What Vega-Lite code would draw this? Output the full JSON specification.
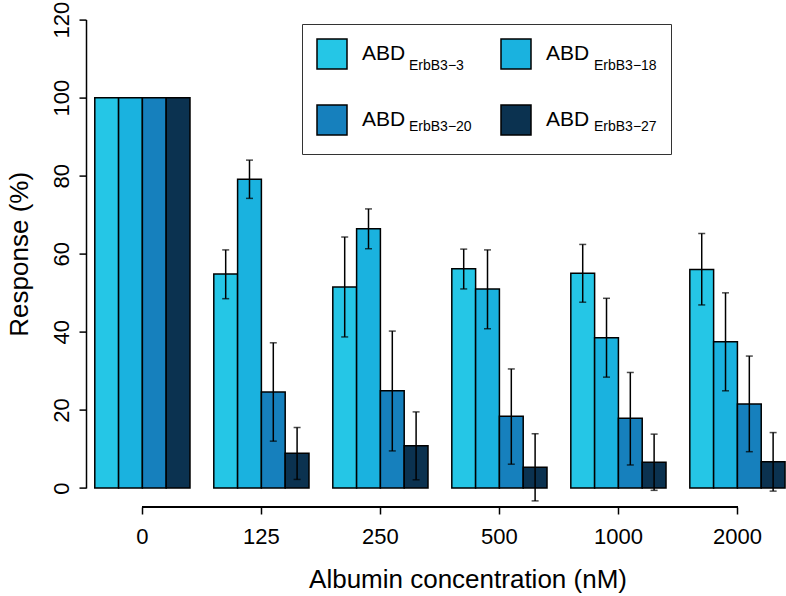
{
  "$schema": "https://vega.github.io/schema/vega-lite/v6.json",
  "width": 700,
  "height": 468.4,
  "autosize": "none",
  "padding": {"left": 86, "top": 19.6, "right": 0, "bottom": 108},
  "background": "white",
  "config": {
    "view": {"stroke": null},
    "font": "Liberation Sans",
    "axis": {"grid": false, "labelFont": "Liberation Sans", "titleFont": "Liberation Sans", "titleFontWeight": "normal", "labelColor": "black", "titleColor": "black", "tickColor": "black", "domainColor": "black"},
    "legend": {"labelFont": "Liberation Sans", "labelColor": "black"}
  },
  "data": {
    "values": [
      {"conc": "0", "series": "ABD ErbB3-3", "sub": "ErbB3−3", "value": 100, "lo": null, "hi": null},
      {"conc": "0", "series": "ABD ErbB3-18", "sub": "ErbB3−18", "value": 100, "lo": null, "hi": null},
      {"conc": "0", "series": "ABD ErbB3-20", "sub": "ErbB3−20", "value": 100, "lo": null, "hi": null},
      {"conc": "0", "series": "ABD ErbB3-27", "sub": "ErbB3−27", "value": 100, "lo": null, "hi": null},
      {"conc": "125", "series": "ABD ErbB3-3", "sub": "ErbB3−3", "value": 54.8, "lo": 48.5, "hi": 61.0},
      {"conc": "125", "series": "ABD ErbB3-18", "sub": "ErbB3−18", "value": 79.1, "lo": 74.2, "hi": 84.0},
      {"conc": "125", "series": "ABD ErbB3-20", "sub": "ErbB3−20", "value": 24.6, "lo": 12.0, "hi": 37.2},
      {"conc": "125", "series": "ABD ErbB3-27", "sub": "ErbB3−27", "value": 8.9, "lo": 2.2, "hi": 15.5},
      {"conc": "250", "series": "ABD ErbB3-3", "sub": "ErbB3−3", "value": 51.5, "lo": 38.7, "hi": 64.3},
      {"conc": "250", "series": "ABD ErbB3-18", "sub": "ErbB3−18", "value": 66.4, "lo": 61.3, "hi": 71.5},
      {"conc": "250", "series": "ABD ErbB3-20", "sub": "ErbB3−20", "value": 24.9, "lo": 9.5, "hi": 40.2},
      {"conc": "250", "series": "ABD ErbB3-27", "sub": "ErbB3−27", "value": 10.8, "lo": 2.1, "hi": 19.5},
      {"conc": "500", "series": "ABD ErbB3-3", "sub": "ErbB3−3", "value": 56.2, "lo": 51.0, "hi": 61.2},
      {"conc": "500", "series": "ABD ErbB3-18", "sub": "ErbB3−18", "value": 51.0, "lo": 40.8, "hi": 61.0},
      {"conc": "500", "series": "ABD ErbB3-20", "sub": "ErbB3−20", "value": 18.4, "lo": 6.1, "hi": 30.5},
      {"conc": "500", "series": "ABD ErbB3-27", "sub": "ErbB3−27", "value": 5.3, "lo": -3.3, "hi": 13.9},
      {"conc": "1000", "series": "ABD ErbB3-3", "sub": "ErbB3−3", "value": 55.0, "lo": 47.6, "hi": 62.4},
      {"conc": "1000", "series": "ABD ErbB3-18", "sub": "ErbB3−18", "value": 38.5, "lo": 28.4, "hi": 48.6},
      {"conc": "1000", "series": "ABD ErbB3-20", "sub": "ErbB3−20", "value": 17.9, "lo": 5.9, "hi": 29.6},
      {"conc": "1000", "series": "ABD ErbB3-27", "sub": "ErbB3−27", "value": 6.6, "lo": -0.6, "hi": 13.8},
      {"conc": "2000", "series": "ABD ErbB3-3", "sub": "ErbB3−3", "value": 56.0, "lo": 46.9, "hi": 65.2},
      {"conc": "2000", "series": "ABD ErbB3-18", "sub": "ErbB3−18", "value": 37.5, "lo": 24.9, "hi": 50.0},
      {"conc": "2000", "series": "ABD ErbB3-20", "sub": "ErbB3−20", "value": 21.5, "lo": 9.3, "hi": 33.8},
      {"conc": "2000", "series": "ABD ErbB3-27", "sub": "ErbB3−27", "value": 6.7, "lo": -0.8, "hi": 14.2}
    ]
  },
  "layer": [
    {
      "mark": {"type": "bar", "strokeWidth": 1.5},
      "encoding": {
        "x": {
          "field": "conc", "type": "nominal",
          "scale": {"domain": ["0", "125", "250", "500", "1000", "2000"], "paddingInner": 0.2, "paddingOuter": 0.041, "align": 0.9},
          "axis": {
            "title": "Albumin concentration (nM)", "titleFontSize": 26, "titleX": 381.5, "titleY": 80,
            "titleAlign": "center", "titleBaseline": "alphabetic", "titleAngle": 0,
            "labelFontSize": 22, "labelAngle": 0, "labelPadding": 12, "labelBaseline": "top",
            "tickSize": 7, "tickWidth": 1.5, "domain": false, "offset": 19
          }
        },
        "xOffset": {
          "field": "series", "type": "nominal",
          "scale": {"domain": ["ABD ErbB3-3", "ABD ErbB3-18", "ABD ErbB3-20", "ABD ErbB3-27"], "paddingInner": 0, "paddingOuter": 0}
        },
        "y": {
          "field": "value", "type": "quantitative",
          "scale": {"domain": [0, 120], "nice": false, "zero": true},
          "axis": {
            "title": "Response (%)", "values": [0, 20, 40, 60, 80, 100, 120],
            "titleFontSize": 26, "titleAngle": 270, "titleAlign": "center", "titleBaseline": "alphabetic",
            "titleX": -59, "titleY": 234.2,
            "labelAngle": 270, "labelAlign": "center", "labelBaseline": "alphabetic", "labelPadding": 11,
            "labelFontSize": 22, "labelFlush": false, "labelOverlap": false,
            "tickSize": 7, "tickWidth": 1.5, "domainWidth": 1.5
          }
        },
        "fill": {
          "field": "series", "type": "nominal",
          "scale": {"domain": ["ABD ErbB3-3", "ABD ErbB3-18", "ABD ErbB3-20", "ABD ErbB3-27"], "range": ["#25C6E6", "#1AB2DF", "#1680BD", "#0B3250"]},
          "legend": {
            "orient": "none", "legendX": 216, "legendY": 4.4, "columns": 2, "direction": "horizontal", "title": null,
            "symbolType": "square", "symbolSize": 900, "symbolStrokeColor": "black", "symbolStrokeWidth": 1.5, "symbolOpacity": 1,
            "labelExpr": "'ABD'", "labelFontSize": 21, "labelOffset": 14, "labelBaseline": "middle",
            "rowPadding": 30, "columnPadding": 92, "padding": 14, "labelLimit": 0
          }
        },
        "stroke": {
          "field": "sub", "type": "nominal",
          "scale": {"domain": ["ErbB3−3", "ErbB3−18", "ErbB3−20", "ErbB3−27"], "range": ["black", "black", "black", "black"]},
          "legend": {
            "orient": "none", "legendX": 216, "legendY": 4.4, "columns": 2, "direction": "horizontal", "title": null,
            "symbolType": "square", "symbolSize": 1600, "symbolStrokeWidth": 1.5, "symbolOpacity": 0,
            "labelFontSize": 14, "labelOffset": 51, "labelBaseline": "top",
            "rowPadding": 20, "columnPadding": 29, "padding": 14, "labelLimit": 0,
            "strokeColor": "#333333"
          }
        }
      }
    },
    {
      "mark": {"type": "rule", "color": "black", "strokeWidth": 1.5},
      "encoding": {
        "x": {"field": "conc", "type": "nominal"},
        "xOffset": {"field": "series", "type": "nominal"},
        "y": {"field": "lo", "type": "quantitative"},
        "y2": {"field": "hi"}
      }
    },
    {
      "mark": {"type": "tick", "color": "black", "size": 7, "thickness": 1.5},
      "encoding": {
        "x": {"field": "conc", "type": "nominal"},
        "xOffset": {"field": "series", "type": "nominal"},
        "y": {"field": "lo", "type": "quantitative"}
      }
    },
    {
      "mark": {"type": "tick", "color": "black", "size": 7, "thickness": 1.5},
      "encoding": {
        "x": {"field": "conc", "type": "nominal"},
        "xOffset": {"field": "series", "type": "nominal"},
        "y": {"field": "hi", "type": "quantitative"}
      }
    },
    {
      "mark": {"type": "rule", "color": "black", "strokeWidth": 1.5},
      "encoding": {
        "x": {"datum": "0", "type": "nominal"},
        "x2": {"datum": "2000"},
        "y": {"datum": -4.87, "type": "quantitative"}
      }
    }
  ]
}
